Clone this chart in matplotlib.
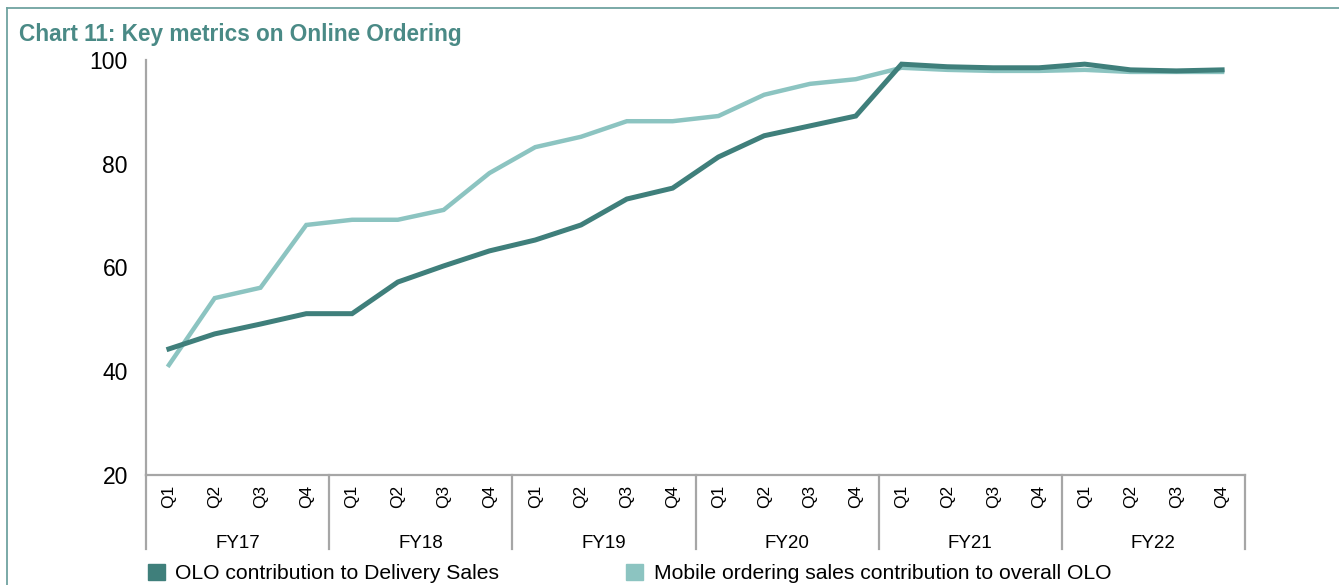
import numpy as np
import matplotlib.pyplot as plt
from matplotlib.patches import Patch
from matplotlib.lines import Line2D
import matplotlib.transforms as mtransforms

plt.rcParams['font.family'] = ['Liberation Sans', 'DejaVu Sans']

# quarterly data, FY17 Q1 .. FY22 Q4
years = ['FY17', 'FY18', 'FY19', 'FY20', 'FY21', 'FY22']
quarters = ['Q1', 'Q2', 'Q3', 'Q4']
olo_delivery = [44.3, 47.2, 49.1, 51.1,
                51.1, 57.2, 60.3, 63.2,
                65.3, 68.2, 73.2, 75.3,
                81.3, 85.4, 87.3, 89.2,
                99.2, 98.7, 98.5, 98.5,
                99.2, 98.1, 97.9, 98.1]
mobile_olo = [41.2, 54.1, 56.1, 68.2,
              69.2, 69.2, 71.1, 78.2,
              83.2, 85.2, 88.2, 88.2,
              89.2, 93.3, 95.4, 96.3,
              98.5, 98.1, 97.9, 97.9,
              98.1, 97.7, 97.7, 97.7]
series_names = ['OLO contribution to Delivery Sales',
                'Mobile ordering sales contribution to overall OLO']

dark = '#3f7f7b'
light = '#8cc4c1'
grey = '#a6a6a6'
title_col = '#4a8a86'

W, H = 1339, 585
fig = plt.figure(figsize=(W / 100, H / 100), dpi=100)

# outer frame (top and left edges)
fig.add_artist(Line2D([7 / W, 1], [1 - 8 / H, 1 - 8 / H], color='#6fa3a0', lw=1.3))
fig.add_artist(Line2D([7 / W, 7 / W], [0, 1 - 8 / H], color='#6fa3a0', lw=1.3))

fig.text(19 / W, 1 - 34 / H, 'Chart 11: Key metrics on Online Ordering',
         fontsize=16.3, fontweight='bold', color=title_col, va='center', ha='left')

ax = fig.add_axes([146 / W, 1 - 475 / H, (1245 - 146) / W, (475 - 60) / H])

x = np.arange(len(olo_delivery))
ax.plot(x, mobile_olo, color=light, lw=3.2, solid_joinstyle='miter', zorder=2)
ax.plot(x, olo_delivery, color=dark, lw=3.6, solid_joinstyle='miter', zorder=3)

ax.set_xlim(-0.5, len(x) - 0.5)
ax.set_ylim(20, 100)
ax.set_yticks([20, 40, 60, 80, 100])
ax.tick_params(axis='y', length=0, labelsize=16.5, pad=13)

for s in ['top', 'right']:
    ax.spines[s].set_visible(False)
for s in ['left', 'bottom']:
    ax.spines[s].set_color(grey)
    ax.spines[s].set_linewidth(1.6)

# quarter labels
ax.set_xticks(x)
ax.set_xticklabels(quarters * len(years), rotation=90, fontsize=12.5)
ax.tick_params(axis='x', length=0, pad=7)

# year groups with separators below the axis
trans = mtransforms.blended_transform_factory(ax.transData, ax.transAxes)
for i, yr in enumerate(years):
    ax.text(i * 4 + 1.5, -0.165, yr, transform=trans, ha='center', va='center',
            fontsize=13.5)
for b in range(len(years) + 1):
    ax.plot([b * 4 - 0.5, b * 4 - 0.5], [0, -0.178], transform=trans,
            color=grey, lw=1.6, clip_on=False)

handles = [Patch(color=dark), Patch(color=light)]
fig.legend(handles, series_names, loc='upper left',
           bbox_to_anchor=(148 / W, 1 - 564 / H), ncol=2, frameon=False,
           fontsize=15.2, handlelength=0.8, handleheight=0.8,
           handletextpad=0.5, columnspacing=6.0, borderpad=0,
           borderaxespad=0)

fig.savefig('out.png', dpi=100)
